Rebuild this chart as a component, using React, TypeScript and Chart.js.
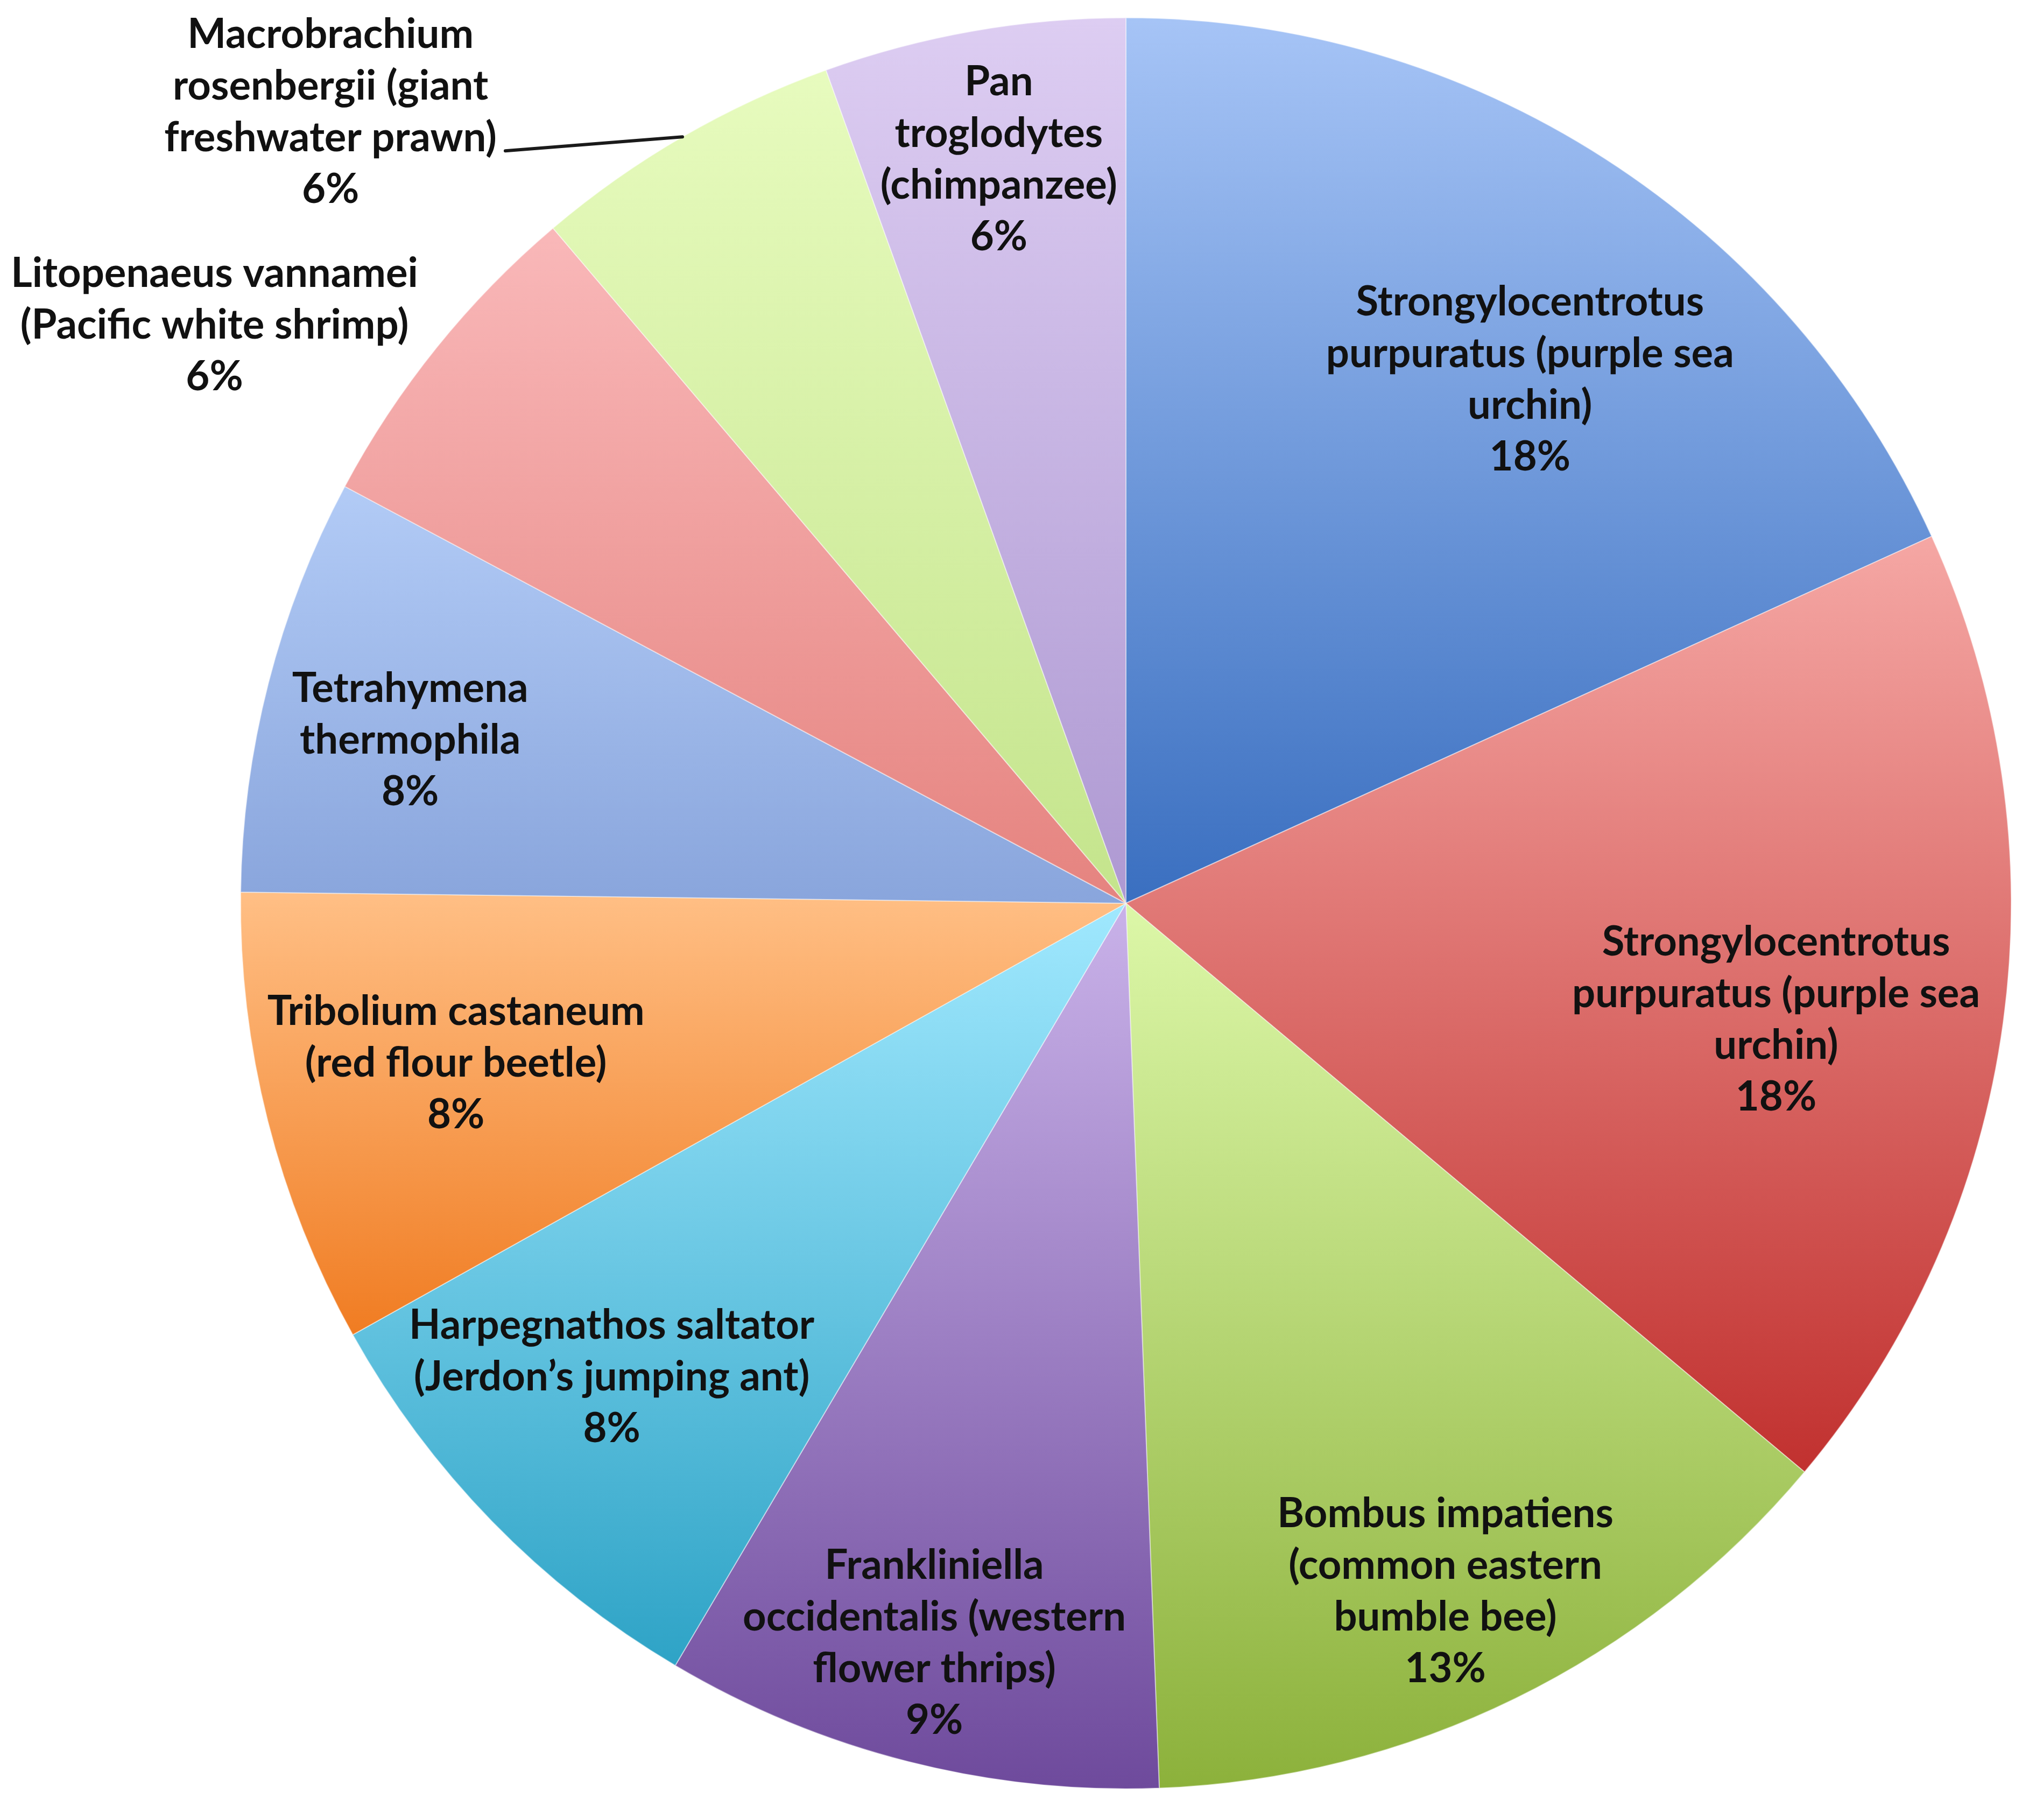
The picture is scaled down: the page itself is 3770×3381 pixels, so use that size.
import { useEffect, useRef } from "react";
import { Chart, registerables } from "chart.js";

Chart.register(...registerables);

// ---- data ----
const categories: string[][] = [
  ["Strongylocentrotus", "purpuratus (purple sea", "urchin)"],
  ["Strongylocentrotus", "purpuratus (purple sea", "urchin)"],
  ["Bombus impatiens", "(common eastern", "bumble bee)"],
  ["Frankliniella", "occidentalis (western", "flower thrips)"],
  ["Harpegnathos saltator", "(Jerdon\u2019s jumping ant)"],
  ["Tribolium castaneum", "(red flour beetle)"],
  ["Tetrahymena", "thermophila"],
  ["Litopenaeus vannamei", "(Pacific white shrimp)"],
  ["Macrobrachium", "rosenbergii (giant", "freshwater prawn)"],
  ["Pan", "troglodytes", "(chimpanzee)"],
];
const values: number[] = [18.2, 17.9, 13.3, 9.1, 8.4, 8.3, 7.6, 6.0, 5.7, 5.5];

// ---- styles ----
const topColors = [
  "#a6c4f6", "#f5a7a4", "#dcf7a8", "#c9b2e9", "#a0e8fe",
  "#ffbf85", "#b2cbf6", "#f9b8b9", "#e7fbbe", "#ddcdf2",
];
const bottomColors = [
  "#3a6fc0", "#c1312f", "#8cb13b", "#6e4a9c", "#2ea3c6",
  "#f07c22", "#89a5dc", "#e5837f", "#c4e48c", "#ae99d2",
];
const labelPlacement = [
  { shift: 4.9, radius: 0.747 },
  { shift: 2.4, radius: 0.746 },
  { shift: 1.2, radius: 0.857 },
  { shift: 0.3, radius: 0.863 },
  { shift: 1.6, radius: 0.79 },
  { shift: 0.8, radius: 0.778 },
  { shift: -1.6, radius: 0.829 },
  { shift: -6.5, radius: 1.219 },
  { shift: -15.1, radius: 1.267, leaderLine: 2 },
  { shift: 0.2, radius: 0.852 },
];
const FONT_SIZE = 76;
const LINE_H = 96;
const FONT_FAMILY = "Lato, 'Open Sans', sans-serif";

function sliceGradient(context: any) {
  const chart = context.chart;
  const i = context.dataIndex;
  const area = chart.chartArea;
  if (!area || i === undefined) return topColors[i ?? 0];
  const cx = (area.left + area.right) / 2;
  const cy = (area.top + area.bottom) / 2;
  const r = Math.min(area.right - area.left, area.bottom - area.top) / 2;
  const total = values.reduce((a, b) => a + b, 0);
  let cum = 0;
  for (let j = 0; j < i; j++) cum += values[j];
  const a0 = -Math.PI / 2 + (2 * Math.PI * cum) / total;
  const a1 = a0 + (2 * Math.PI * values[i]) / total;
  const ys = [cy, cy + r * Math.sin(a0), cy + r * Math.sin(a1)];
  const inRange = (a: number) => {
    for (let k = -2; k <= 2; k++) {
      const t = a + k * 2 * Math.PI;
      if (t >= a0 && t <= a1) return true;
    }
    return false;
  };
  if (inRange(-Math.PI / 2)) ys.push(cy - r);
  if (inRange(Math.PI / 2)) ys.push(cy + r);
  const ymin = Math.min(...ys);
  const ymax = Math.max(...ys);
  const g = chart.ctx.createLinearGradient(cx, ymin, cx, ymax);
  g.addColorStop(0, topColors[i]);
  g.addColorStop(1, bottomColors[i]);
  return g;
}

const labelPlugin = {
  id: "sliceLabels",
  afterDatasetsDraw(chart: any) {
    const ctx = chart.ctx as CanvasRenderingContext2D;
    const meta = chart.getDatasetMeta(0);
    const total = values.reduce((a, b) => a + b, 0);
    ctx.save();
    ctx.font = `bold ${FONT_SIZE}px ${FONT_FAMILY}`;
    ctx.fillStyle = "#111111";
    ctx.strokeStyle = "#1a1a1a";
    ctx.lineWidth = 6;
    ctx.lineCap = "round";
    ctx.textAlign = "center";
    ctx.textBaseline = "middle";
    meta.data.forEach((arc: any, i: number) => {
      const { x, y, startAngle, endAngle, outerRadius } = arc.getProps(
        ["x", "y", "startAngle", "endAngle", "outerRadius"],
        true
      );
      const p: any = labelPlacement[i];
      const mid = (startAngle + endAngle) / 2;
      const a = mid + (p.shift * Math.PI) / 180;
      const lx = x + Math.cos(a) * outerRadius * p.radius;
      const ly = y + Math.sin(a) * outerRadius * p.radius;
      const lines = [...categories[i], Math.round((values[i] / total) * 100) + "%"];
      const top = ly - ((lines.length - 1) * LINE_H) / 2;
      lines.forEach((t, k) => ctx.fillText(t, lx, top + k * LINE_H));
      if (p.leaderLine !== undefined) {
        const k = p.leaderLine;
        const w = ctx.measureText(lines[k]).width;
        const sx = lx + w / 2 + 16;
        const sy = top + k * LINE_H + 24;
        const ex = x + Math.cos(mid) * outerRadius;
        const ey = y + Math.sin(mid) * outerRadius;
        ctx.beginPath();
        ctx.moveTo(sx, sy);
        ctx.lineTo(ex, ey);
        ctx.stroke();
      }
    });
    ctx.restore();
  },
};

export default function App() {
  const canvasRef = useRef<HTMLCanvasElement | null>(null);
  useEffect(() => {
    if (!canvasRef.current) return;
    const chart = new Chart(canvasRef.current, {
      type: "pie",
      data: {
        labels: categories,
        datasets: [
          {
            data: values,
            backgroundColor: sliceGradient as any,
            borderColor: "rgba(255,255,255,0.45)",
            borderWidth: 2,
          },
        ],
      },
      options: {
        animation: false,
        responsive: true,
        maintainAspectRatio: false,
        devicePixelRatio: 1,
        layout: { padding: { left: 446, right: 32, top: 32, bottom: 57 } },
        plugins: {
          legend: { display: false },
          tooltip: { enabled: false },
        },
      },
      plugins: [labelPlugin],
    });
    return () => chart.destroy();
  }, []);
  return (
    <div
      style={{
        position: "absolute",
        left: 0,
        top: 0,
        width: "3770px",
        height: "3381px",
        background: "#ffffff",
      }}
    >
      <canvas ref={canvasRef} />
    </div>
  );
}
